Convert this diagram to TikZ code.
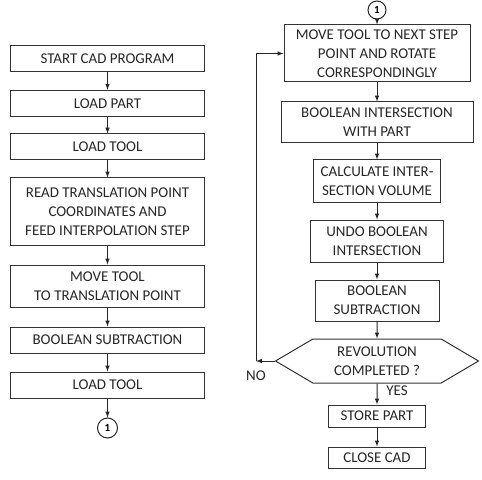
\documentclass[tikz,border=0pt]{standalone}
\usepackage{fontspec}
\setmainfont{Carlito}
\setsansfont{Carlito}
\usetikzlibrary{arrows,shapes.symbols,positioning}
\tikzstyle{every picture}+=[font=\sffamily]

\begin{document}
\begin{tikzpicture}
	[x=1bp, y=-1bp, font=\sffamily, inner sep=0pt, line width=1bp, >=latex,
	process/.style	= {draw, rectangle, black!80, text=black!85, align=center, minimum width=193bp, minimum height=26bp, font=\fontsize{15}{19}\selectfont\sffamily},
	decision/.style	= {draw, shape=signal, signal to=west and east, signal pointer angle=61, black!80, text=black!85, align=center, minimum width=203bp, minimum height=44bp, font=\fontsize{15}{19}\selectfont\sffamily},
	connector/.style= {draw, circle, black!85, text=black, minimum size=20bp, font=\fontsize{11}{13}\selectfont\sffamily\bfseries},
	tag/.style		= {text=black!85, font=\fontsize{15}{19}\selectfont\sffamily}]

	\useasboundingbox (0,0) rectangle (482,480);

	% left column
	\node [process]							at (107.5,59)	(1) {START CAD PROGRAM};
	\node [process]							at (107.5,103.3)	(2) {LOAD PART};
	\node [process]							at (107.5,147)	(3) {LOAD TOOL};
	\node [process, minimum height=67bp]	at (107.5,211.5)	(4) {READ TRANSLATION POINT\\COORDINATES AND\\FEED INTERPOLATION STEP};
	\node [process, minimum height=42bp]	at (107.5,286)	(5) {MOVE TOOL\\TO TRANSLATION POINT};
	\node [process]							at (107.5,340)	(6) {BOOLEAN SUBTRACTION};
	\node [process]							at (107.5,385)	(7) {LOAD TOOL};
	\node [connector]						at (107.5,428)	(c1) {1};

	% right column
	\node [connector, minimum size=18bp]	at (377,10)		(c2) {1};
	\node [process, minimum width=186bp, minimum height=57bp]	at (377,53.5)	(8) {MOVE TOOL TO NEXT STEP\\POINT AND ROTATE\\CORRESPONDINGLY};
	\node [process, minimum width=192bp, minimum height=41bp]	at (377,122.5)	(9) {BOOLEAN INTERSECTION\\WITH PART};
	\node [process, minimum width=127bp, minimum height=42bp]	at (377,181)	(10) {CALCULATE INTER-\\SECTION VOLUME};
	\node [process, minimum width=133bp, minimum height=42bp]	at (377,241)	(11) {UNDO BOOLEAN\\INTERSECTION};
	\node [process, minimum width=124bp, minimum height=41bp]	at (377,300.5)	(12) {BOOLEAN\\SUBTRACTION};
	\node [decision]						at (377,361)	(13) {REVOLUTION\\COMPLETED ?};
	\node [process, minimum width=97bp, minimum height=22bp]	at (377,416)	(14) {STORE PART};
	\node [process, minimum width=97bp, minimum height=21bp]	at (377,457.5)	(15) {CLOSE CAD};

	\coordinate (no) at (256,361);
	\node [tag]	at (256,376)	(nolabel)	{NO};
	\node [tag]	at (397,391)	(yeslabel)	{YES};

	% arrows
	\foreach \a/\b in {1/2, 2/3, 3/4, 4/5, 5/6, 6/7, 7/c1, c2/8, 8/9, 9/10, 10/11, 11/12, 12/13, 13/14, 14/15}
		\draw [->, black!85] (\a) -- (\b);
	\draw [->, black!85] (13.west) -- (no);
	\draw [->, black!85] (no) |- (8.west);
\end{tikzpicture}
\end{document}
